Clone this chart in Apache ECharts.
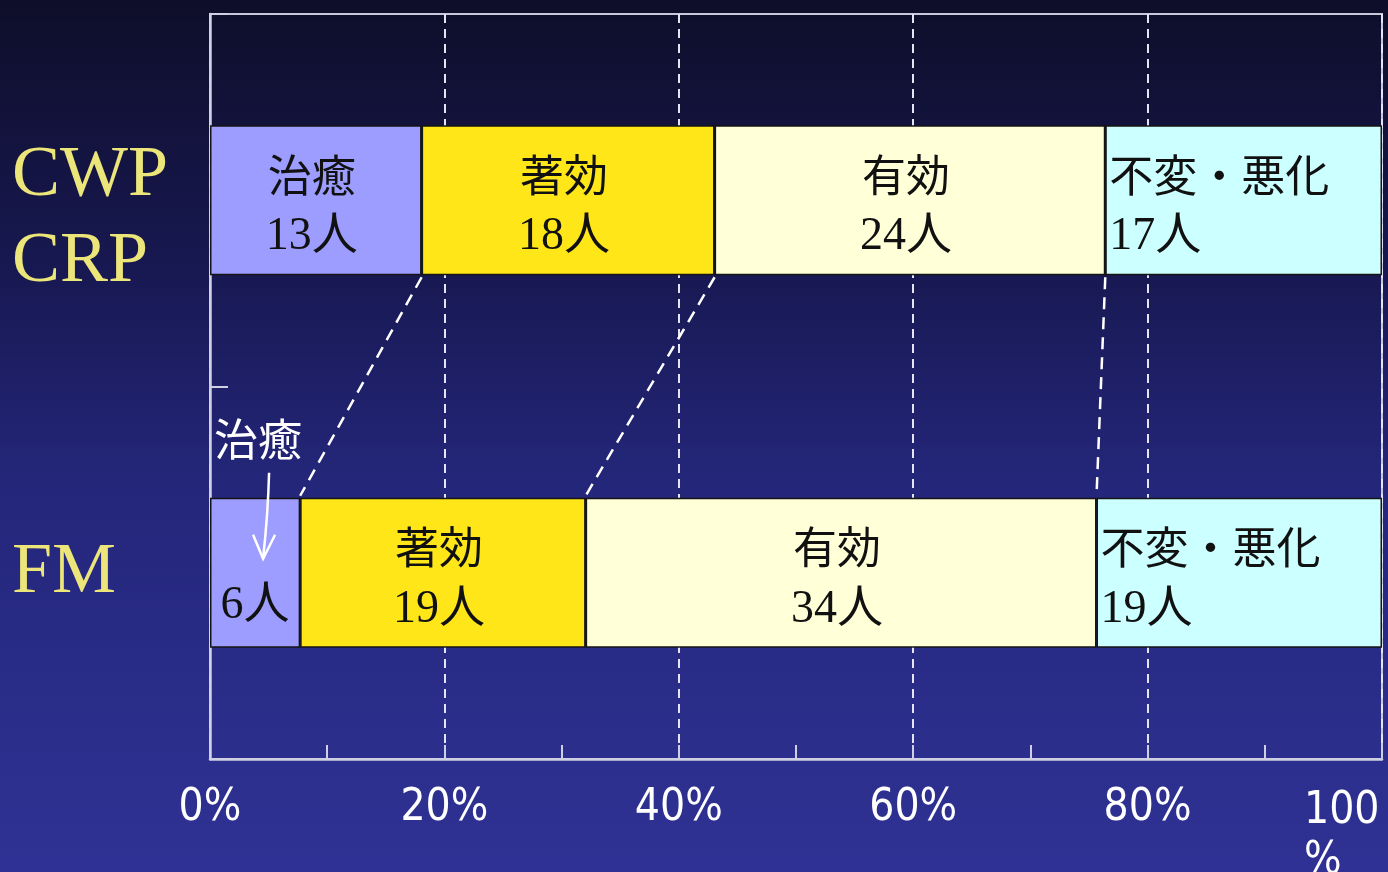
<!DOCTYPE html>
<html>
<head>
<meta charset="utf-8">
<script src="https://cdn.jsdelivr.net/npm/echarts@6/dist/echarts.min.js"></script>
<style>
html,body{margin:0;padding:0;background:#1a1a55;}
#c{width:1388px;height:872px;}
</style>
</head>
<body>
<div id="c"></div>
<script>
// ---- data ----
const categories = ['CWP\nCRP', 'FM'];
const groups = ['治癒', '著効', '有効', '不変・悪化'];
const cwpCounts = [13, 18, 24, 17];
const fmCounts = [6, 19, 34, 19];
const xTickLabels = ['0%', '20%', '40%', '60%', '80%', '100%'];
const groupColors = ['#9d9dff', '#ffe619', '#ffffd8', '#ccffff'];

// ---- derived ----
const sum = a => a.reduce((s, v) => s + v, 0);
const share = (a, i) => a[i] / sum(a) * 100;
const cum = (a, k) => { let s = 0; for (let i = 0; i <= k; i++) s += share(a, i); return s; };
const BAR_W = 150;

const rich = {
  n: { fontFamily: 'Noto Sans CJK JP', fontSize: 44, color: '#111', lineHeight: 62 },
  c: { fontFamily: '"Liberation Serif", "Noto Sans CJK JP"', fontSize: 46, color: '#111', lineHeight: 62 }
};

const barSeries = groups.map((g, i) => {
  const counts = [cwpCounts[i], fmCounts[i]];
  const data = [
    { value: share(cwpCounts, i) },
    { value: share(fmCounts, i) }
  ];
  if (i === 0) {
    data[1].label = { formatter: '{c|' + fmCounts[0] + '人}', offset: [0, 33] };
  }
  return {
    type: 'bar',
    name: g,
    stack: 'total',
    barWidth: BAR_W,
    data: data,
    itemStyle: { color: groupColors[i], borderColor: '#151515', borderWidth: 1.5 },
    label: {
      show: true,
      position: i === 3 ? 'insideLeft' : 'inside',
      distance: 4,
      align: i === 3 ? 'left' : 'center',
      offset: [i === 3 ? 0 : -4, 6],
      formatter: p => '{n|' + g + '}\n{c|' + counts[p.dataIndex] + '人}',
      rich: rich
    },
    emphasis: { disabled: true },
    z: 2
  };
});

// connector lines between bar boundaries
const connectorData = [0, 1, 2].map(k => [cum(cwpCounts, k), cum(fmCounts, k)]);

const connectorSeries = {
  type: 'custom',
  coordinateSystem: 'cartesian2d',
  data: connectorData,
  encode: { x: [0, 1] },
  z: 5,
  silent: true,
  renderItem: (params, api) => {
    const p1 = api.coord([api.value(0), 0]);
    const p2 = api.coord([api.value(1), 1]);
    return {
      type: 'line',
      shape: { x1: p1[0], y1: p1[1] + BAR_W / 2 + 2, x2: p2[0], y2: p2[1] - BAR_W / 2 - 2 },
      style: { stroke: '#ffffff', lineWidth: 2.5, lineDash: [12, 8] }
    };
  }
};

// annotation for small FM segment
const annoSeries = {
  type: 'custom',
  coordinateSystem: 'cartesian2d',
  data: [[share(fmCounts, 0) / 2, 1]],
  encode: { x: 0 },
  z: 6,
  silent: true,
  renderItem: (params, api) => {
    const c = api.coord([api.value(0), api.value(1)]);
    const x = c[0], y = c[1];
    return {
      type: 'group',
      children: [
        { type: 'text', style: { text: groups[0], x: x + 3, y: y - 133, fill: '#ffffff',
            font: '44px "Noto Sans CJK JP"', textAlign: 'center', textVerticalAlign: 'middle' } },
        { type: 'bezierCurve', shape: { x1: x + 14, y1: y - 100, x2: x + 8, y2: y - 14, cpx1: x + 13, cpy1: y - 60 },
          style: { stroke: '#ffffff', lineWidth: 2.5, fill: null } },
        { type: 'polyline', shape: { points: [[x - 2, y - 38], [x + 8, y - 14], [x + 20, y - 38]] },
          style: { stroke: '#ffffff', lineWidth: 2.5, fill: null } }
      ]
    };
  }
};

const LBL_FONT = '"DejaVu Sans Condensed", "DejaVu Sans"';

const chart = echarts.init(document.getElementById('c'), null, { renderer: 'canvas' });
chart.setOption({
  animation: false,
  backgroundColor: {
    type: 'linear', x: 0, y: 0, x2: 0, y2: 1,
    colorStops: [
      { offset: 0, color: '#0e0e2a' },
      { offset: 0.3, color: '#171850' },
      { offset: 0.55, color: '#24267a' },
      { offset: 1, color: '#2f3294' }
    ]
  },
  grid: {
    left: 210, right: 6, top: 14, bottom: 113,
    show: true, borderColor: '#c8c8dc', borderWidth: 2, backgroundColor: 'transparent',
    outerBoundsMode: 'none'
  },
  xAxis: {
    type: 'value', min: 0, max: 100, interval: 20,
    axisLine: { show: true, lineStyle: { color: '#cfd0e4', width: 2.5 } },
    axisTick: { show: true, inside: true, length: 14, lineStyle: { color: '#cfd0e4', width: 2 } },
    minorTick: { show: true, splitNumber: 2, length: 14, lineStyle: { color: '#cfd0e4', width: 2 } },
    splitLine: { show: true, lineStyle: { color: '#e4e4f4', width: 2, type: [9, 6] } },
    axisLabel: {
      margin: 28,
      color: '#ffffff',
      fontFamily: LBL_FONT,
      fontSize: 44,
      alignMaxLabel: 'right',
      formatter: v => {
        const lbl = xTickLabels[Math.round(v / 20)];
        if (v === 100) return '{a|' + lbl.replace('%', '') + '}\n{b|%}';
        return lbl;
      },
      rich: {
        a: { fontFamily: LBL_FONT, fontSize: 44, color: '#fff', width: 78, align: 'left', lineHeight: 50 },
        b: { fontFamily: LBL_FONT, fontSize: 44, color: '#fff', width: 78, align: 'left', lineHeight: 50 }
      }
    }
  },
  yAxis: {
    type: 'category', inverse: true, data: categories,
    axisLine: { show: true, lineStyle: { color: '#cfd0e4', width: 2.5 } },
    axisTick: { show: true, inside: true, length: 18, lineStyle: { color: '#cfd0e4', width: 2 } },
    splitLine: { show: false },
    axisLabel: {
      margin: 198, align: 'left',
      formatter: v => {
        const lines = v.split('\n').map(s => '{y|' + s + '}');
        return lines.length > 1 ? '{sp|}\n' + lines.join('\n') : lines[0];
      },
      rich: {
        y: { color: '#ece57a', fontFamily: '"Liberation Serif"', fontSize: 72, lineHeight: 86 },
        sp: { fontSize: 10, lineHeight: 38 }
      }
    }
  },
  series: [...barSeries, connectorSeries, annoSeries]
});
</script>
</body>
</html>
